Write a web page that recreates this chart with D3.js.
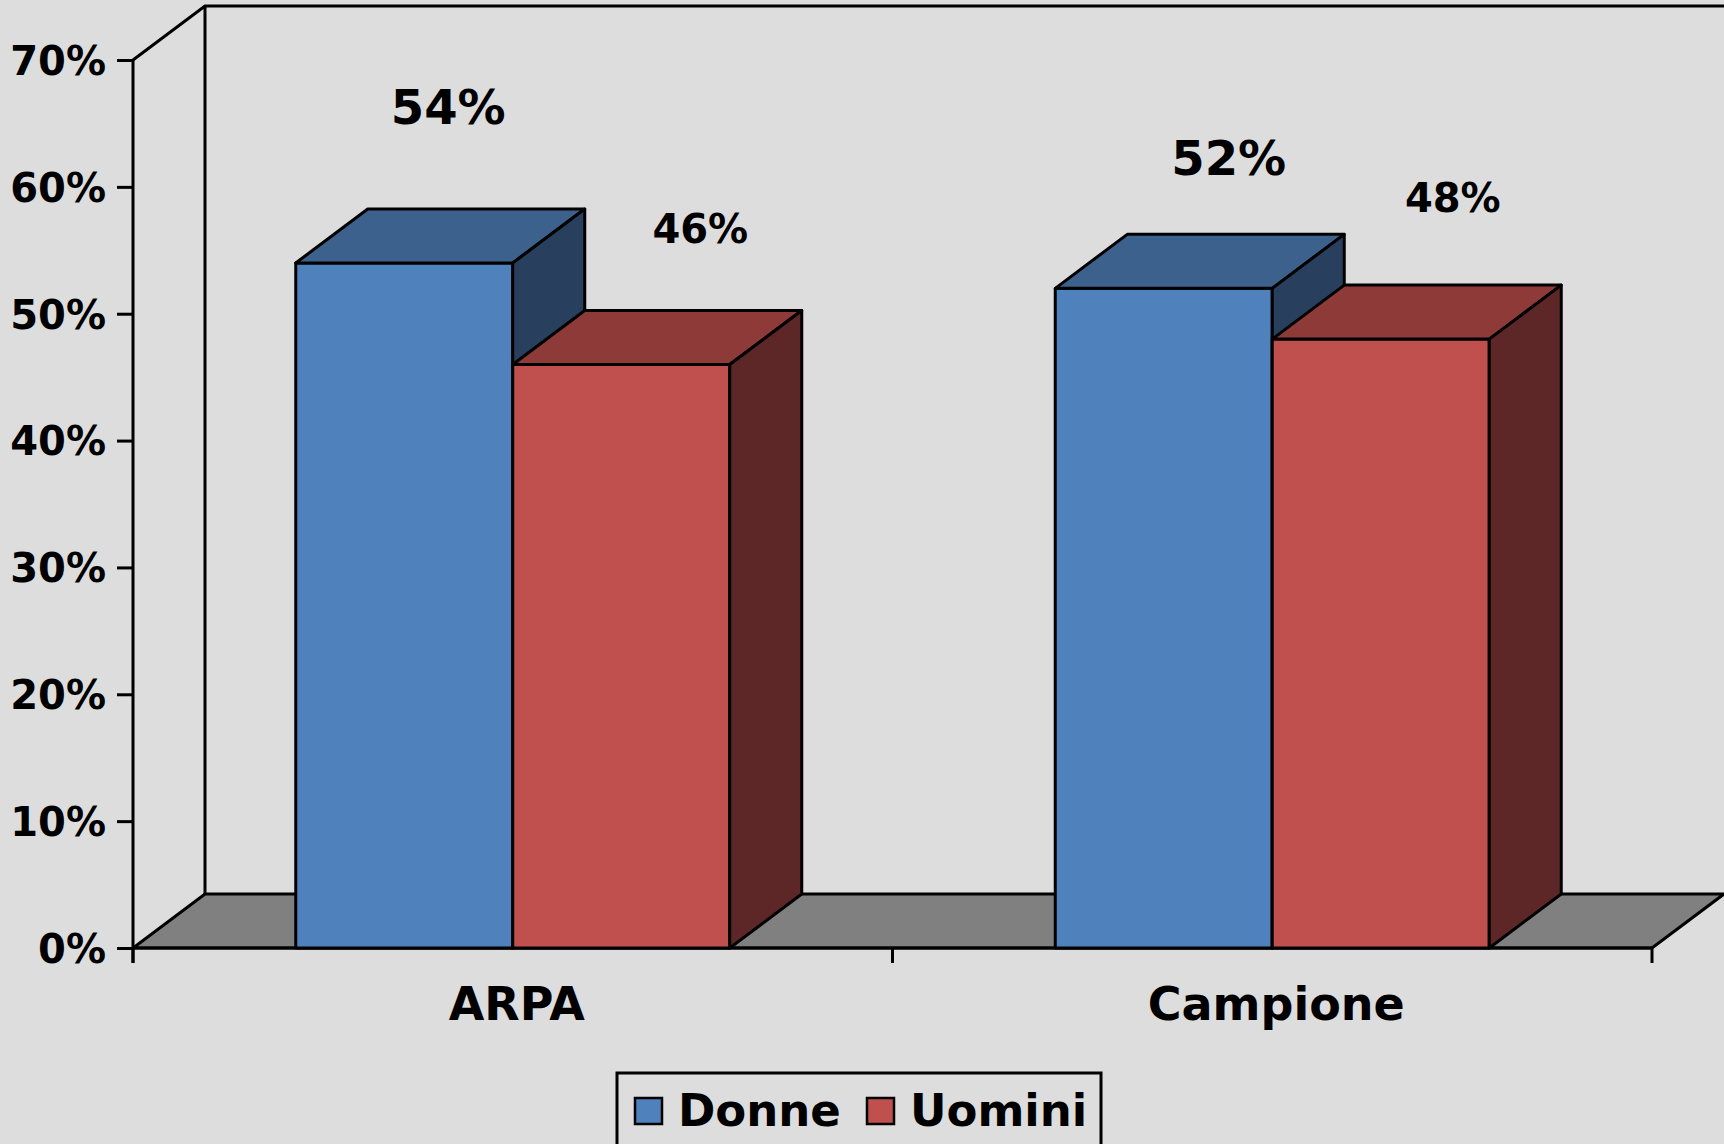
<!DOCTYPE html>
<html>
<head>
<meta charset="utf-8">
<script src="https://cdn.jsdelivr.net/npm/d3@7"></script>
<style>
  html, body { margin: 0; padding: 0; background: #DDDDDD; }
  svg { display: block; }
  text { font-family: "DejaVu Sans", Verdana, sans-serif; font-weight: bold; fill: #000; }
</style>
</head>
<body>
<svg id="chart" width="1724" height="1144"></svg>
<script>
// ---- data ----
const categories = ["ARPA", "Campione"];
const series = ["Donne", "Uomini"];
const donne = [0.54, 0.52];
const uomini = [0.46, 0.48];
const yTicks = [0, 0.1, 0.2, 0.3, 0.4, 0.5, 0.6, 0.7];

// ---- layout ----
const W = 1724, H = 1144;
const plotLeft = 133, plotRight = 1652, plotBottom = 948, plotTop = 60;
const depthX = 72, depthY = -54;
const colors = {
  Donne: { front: "#4F81BD", top: "#3C618C", side: "#28405E" },
  Uomini: { front: "#C0504D", top: "#8E3A39", side: "#5E2727" }
};
const labelSize = { Donne: 48, Uomini: 40 };
// per-label nudges (layout only), order: [series][category]
const labelNudge = { Donne: [[-21, -16], [0, 9]], Uomini: [[14, 4], [7, -1]] };

const svg = d3.select("#chart");
svg.append("rect").attr("width", W).attr("height", H).attr("fill", "#DDDDDD");

const y = d3.scaleLinear().domain([0, 0.7]).range([plotBottom, plotTop]);
const x0 = d3.scaleBand().domain(categories).range([plotLeft, plotRight]).paddingInner(0).paddingOuter(0);
const x1 = d3.scaleBand().domain(series).range([0, x0.bandwidth()]).paddingInner(0).paddingOuter(0.75);

const SW = 3;
// back wall (left edge + top)
svg.append("path")
  .attr("d", `M${plotLeft},${y(0.7)} L${plotLeft + depthX},${y(0.7) + depthY} L${W + 10},${y(0.7) + depthY}`)
  .attr("fill", "none").attr("stroke", "#000").attr("stroke-width", SW);
svg.append("line")
  .attr("x1", plotLeft + depthX).attr("x2", plotLeft + depthX)
  .attr("y1", y(0.7) + depthY).attr("y2", y(0) + depthY)
  .attr("stroke", "#000").attr("stroke-width", SW);

// floor
svg.append("path")
  .attr("d", `M${plotLeft},${y(0)} L${plotRight},${y(0)} L${plotRight + depthX},${y(0) + depthY} L${plotLeft + depthX},${y(0) + depthY} Z`)
  .attr("fill", "#808080").attr("stroke", "#000").attr("stroke-width", SW).attr("stroke-linejoin", "miter");

// y axis
const yAxis = d3.axisLeft(y).tickValues(yTicks).tickFormat(d3.format(".0%")).tickSize(16).tickPadding(11);
const ga = svg.append("g").attr("transform", `translate(${plotLeft},0)`).call(yAxis);
ga.select(".domain").remove();
ga.selectAll(".tick line").attr("stroke", "#000").attr("stroke-width", SW);
ga.selectAll(".tick text").attr("font-size", 40).attr("font-family", "DejaVu Sans").attr("font-weight", "bold").attr("fill", "#000").attr("dy", "0.36em");
svg.append("line").attr("x1", plotLeft).attr("x2", plotLeft).attr("y1", y(0.7)).attr("y2", y(0) + 15)
  .attr("stroke", "#000").attr("stroke-width", SW);

// x axis
svg.append("line").attr("x1", plotLeft).attr("x2", plotRight).attr("y1", y(0)).attr("y2", y(0))
  .attr("stroke", "#000").attr("stroke-width", SW);
const xTickPos = [plotLeft, ...categories.slice(1).map(c => x0(c)), plotRight];
svg.selectAll(".xtick").data(xTickPos).join("line")
  .attr("x1", d => d).attr("x2", d => d).attr("y1", y(0)).attr("y2", y(0) + 15)
  .attr("stroke", "#000").attr("stroke-width", SW);
svg.selectAll(".xlab").data(categories).join("text")
  .attr("x", d => x0(d) + x0.bandwidth() / 2 + 4)
  .attr("y", y(0) + 72)
  .attr("text-anchor", "middle").attr("font-size", 46)
  .text(d => d);

// bars
const rows = [];
series.forEach(s => {
  const vals = s === "Donne" ? donne : uomini;
  categories.forEach((c, i) => rows.push({ s, c, i, v: vals[i] }));
});
const g = svg.append("g");
rows.forEach(r => {
  const bx = x0(r.c) + x1(r.s), bw = x1.bandwidth();
  const yt = y(r.v), yb = y(0);
  const col = colors[r.s];
  const grp = g.append("g").attr("stroke", "#000").attr("stroke-width", SW).attr("stroke-linejoin", "round");
  grp.append("rect").attr("x", bx).attr("y", yt).attr("width", bw).attr("height", yb - yt).attr("fill", col.front);
  grp.append("path").attr("fill", col.top)
    .attr("d", `M${bx},${yt} L${bx + depthX},${yt + depthY} L${bx + bw + depthX},${yt + depthY} L${bx + bw},${yt} Z`);
  grp.append("path").attr("fill", col.side)
    .attr("d", `M${bx + bw},${yt} L${bx + bw + depthX},${yt + depthY} L${bx + bw + depthX},${yb + depthY} L${bx + bw},${yb} Z`);
});

// value labels
const fmt = d3.format(".0%");
rows.forEach(r => {
  const bx = x0(r.c) + x1(r.s), bw = x1.bandwidth();
  const n = labelNudge[r.s][r.i];
  svg.append("text")
    .attr("x", bx + bw / 2 + 65 + n[0])
    .attr("y", y(r.v) - 140 + n[1])
    .attr("dy", "0.36em")
    .attr("text-anchor", "middle")
    .attr("font-size", labelSize[r.s])
    .text(fmt(r.v));
});

// legend
const lg = svg.append("g").attr("transform", "translate(617,1073)");
lg.append("rect").attr("x", 0).attr("y", 0).attr("width", 484).attr("height", 100)
  .attr("fill", "none").attr("stroke", "#000").attr("stroke-width", SW);
const legX = [18, 250];
series.forEach((s, i) => {
  lg.append("rect").attr("x", legX[i]).attr("y", 25).attr("width", 27).attr("height", 26)
    .attr("fill", colors[s].front).attr("stroke", "#000").attr("stroke-width", 2.5);
  lg.append("text").attr("x", legX[i] + 43).attr("y", 53).attr("font-size", 45).text(s);
});
</script>
</body>
</html>
